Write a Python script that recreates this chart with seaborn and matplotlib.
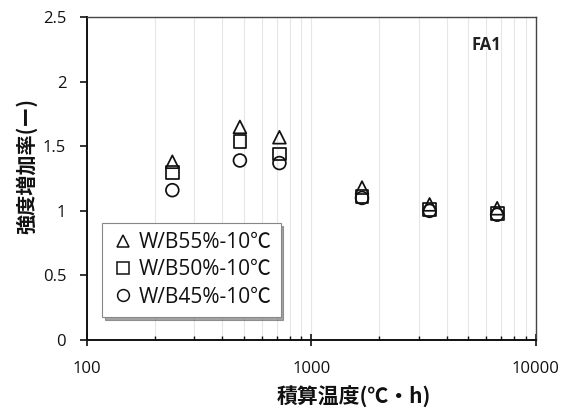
import matplotlib
matplotlib.use("Agg")
import matplotlib.pyplot as plt
import seaborn as sns
import pandas as pd
from matplotlib.ticker import LogLocator, NullFormatter
from matplotlib.lines import Line2D

# Maturity (°C·h) and strength gain ratio per mix
maturity = [240, 480, 720, 1680, 3360, 6720]
wb55 = [1.38, 1.65, 1.57, 1.18, 1.05, 1.02]
wb50 = [1.30, 1.54, 1.44, 1.11, 1.01, 0.98]
wb45 = [1.16, 1.39, 1.37, 1.10, 1.00, 0.97]
series_names = ["W/B55%-10℃", "W/B50%-10℃", "W/B45%-10℃"]
x_ticks = [100, 1000, 10000]
y_ticks = [0, 0.5, 1, 1.5, 2, 2.5]
y_tick_labels = ["0", "0.5", "1", "1.5", "2", "2.5"]

rows = []
for name, vals in zip(series_names, [wb55, wb50, wb45]):
    for x, y in zip(maturity, vals):
        rows.append({"maturity": x, "ratio": y, "mix": name})
df = pd.DataFrame(rows)

sns.set_theme(style="white")
plt.rcParams["font.family"] = ["Noto Sans CJK JP", "DejaVu Sans"]

fig, ax = plt.subplots(figsize=(5.75, 4.08), dpi=100)
fig.subplots_adjust(left=0.1513, right=0.932, top=0.958, bottom=0.1667)

markers = {"W/B55%-10℃": "^", "W/B50%-10℃": "s", "W/B45%-10℃": "o"}
sns.scatterplot(data=df, x="maturity", y="ratio", style="mix", markers=markers,
                style_order=series_names, ax=ax, s=85, facecolor="none",
                edgecolor="#111111", linewidth=1.25, legend=False, zorder=3)

ax.set_xscale("log")
ax.set_xlim(100, 10000)
ax.set_ylim(0, 2.5)
ax.set_yticks(y_ticks)
ax.set_yticklabels(y_tick_labels)
ax.set_xticks(x_ticks)
ax.set_xticklabels([str(v) for v in x_ticks])
ax.xaxis.set_minor_locator(LogLocator(base=10, subs=range(2, 10)))
ax.xaxis.set_minor_formatter(NullFormatter())

num_font = ["Open Sans", "Noto Sans CJK JP"]
for lab in ax.get_xticklabels() + ax.get_yticklabels():
    lab.set_family(num_font)
    lab.set_fontsize(12)
    lab.set_color("#111111")

ax.grid(True, which="both", axis="x", color="#e6e6e6", linewidth=0.8)
ax.grid(False, axis="y")

for side in ["left", "bottom"]:
    ax.spines[side].set_color("#111111")
    ax.spines[side].set_linewidth(1.4)
for side in ["top", "right"]:
    ax.spines[side].set_color("#444444")
    ax.spines[side].set_linewidth(1.0)

ax.tick_params(axis="y", which="major", direction="out", length=5, width=1.2,
               color="#111111", pad=10, left=True)
ax.tick_params(axis="y", which="minor", left=False)
ax.tick_params(axis="x", which="major", direction="inout", length=8, width=1.2,
               color="#111111", pad=11, bottom=True)
ax.tick_params(axis="x", which="minor", direction="in", length=3, width=1.0,
               color="#111111", bottom=True)

ax.set_xlabel("積算温度(℃・h)", fontsize=15, fontweight="bold",
              color="#111111")
ax.xaxis.set_label_coords(0.595, -0.143)
ax.set_ylabel("強度増加率(ー)", fontsize=14.5, fontweight="bold",
              color="#111111")
ax.yaxis.set_label_coords(-0.11, 0.54)

ax.text(0.889, 0.913, "FA1", transform=ax.transAxes, ha="center", va="center",
        fontsize=12, fontweight="bold", family=num_font, color="#222222")

# Legend with open markers
handles = [Line2D([], [], linestyle="none", marker=markers[n], markersize=8.5,
                  markerfacecolor="none", markeredgecolor="#111111",
                  markeredgewidth=1.1) for n in series_names]
leg = ax.legend(handles, series_names, loc="lower left",
                bbox_to_anchor=(0.033, 0.071), borderaxespad=0,
                frameon=True, fancybox=False, shadow=True, handletextpad=0.2,
                handlelength=1.1, labelspacing=0.3, borderpad=0.45,
                prop={"family": ["Open Sans", "Noto Sans CJK JP"], "size": 15})
leg.get_frame().set_edgecolor("#888888")
leg.get_frame().set_linewidth(0.8)
for t in leg.get_texts():
    t.set_color("#111111")

fig.savefig("out.png", dpi=100)
